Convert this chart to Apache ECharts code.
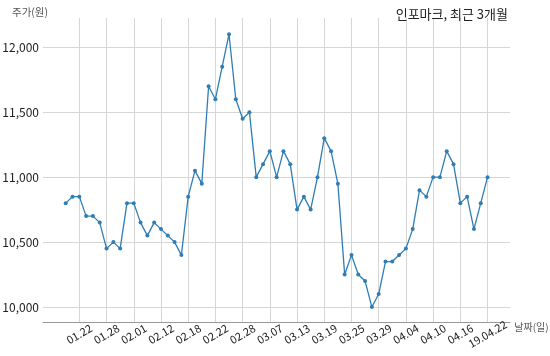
<!DOCTYPE html>
<html><head><meta charset="utf-8">
<script src="https://cdn.jsdelivr.net/npm/echarts@6/dist/echarts.min.js"></script>
<style>html,body{margin:0;padding:0;background:#fff}#c{width:550px;height:356px}</style>
</head><body><div id="c"></div>
<script>
const dates = ["01.18","01.21","01.22","01.23","01.24","01.25","01.28","01.29","01.30","01.31",
  "02.01","02.07","02.08","02.11","02.12","02.13","02.14","02.15","02.18","02.19",
  "02.20","02.21","02.22","02.25","02.26","02.27","02.28","03.04","03.05","03.06",
  "03.07","03.08","03.11","03.12","03.13","03.14","03.15","03.18","03.19","03.20",
  "03.21","03.22","03.25","03.26","03.27","03.28","03.29","04.01","04.02","04.03",
  "04.04","04.05","04.08","04.09","04.10","04.11","04.12","04.15","04.16","04.17",
  "04.18","04.19","04.22"];
const prices = [10800,10850,10850,10700,10700,10650,10450,10500,10450,10800,
  10800,10650,10550,10650,10600,10550,10500,10400,10850,11050,
  10950,11700,11600,11850,12100,11600,11450,11500,11000,11100,
  11200,11000,11200,11100,10750,10850,10750,11000,11300,11200,
  10950,10250,10400,10250,10200,10000,10100,10350,10350,10400,
  10450,10600,10900,10850,11000,11000,11200,11100,10800,10850,
  10600,10800,11000];
const tickIdx = [2,6,10,14,18,22,26,30,34,38,42,46,50,54,58,62];
const tickLabels = ["01.22","01.28","02.01","02.12","02.18","02.22","02.28","03.07","03.13","03.19","03.25","03.29","04.04","04.10","04.16","19.04.22"];
const yTicks = [10000,10500,11000,11500,12000];

const font = "'Noto Sans CJK KR','Noto Sans',sans-serif";
const chart = echarts.init(document.getElementById('c'));
chart.setOption({
  animation:false,
  title:[
    {text:'인포마크, 최근 3개월',right:37,top:3,textStyle:{fontSize:13,fontWeight:'normal',color:'#222',fontFamily:font}},
    {text:'주가(원)',left:12,top:7,padding:0,textStyle:{fontSize:10.5,fontWeight:'normal',color:'#555',fontFamily:font}}
  ],
  grid:{left:43,right:40,top:18,bottom:34,outerBoundsMode:'none',containLabel:false},
  xAxis:{type:'value',min:-3.34,max:65.3,
    name:'날짜(일)',nameLocation:'end',nameGap:2,
    nameTextStyle:{fontSize:10,color:'#555',fontFamily:font,verticalAlign:'top',padding:[0,0,0,0]},
    axisLine:{show:true,lineStyle:{color:'#999',width:1}},
    axisTick:{show:false,customValues:tickIdx},
    splitLine:{show:true,lineStyle:{color:'#d6d6d6',width:1}},
    axisLabel:{customValues:tickIdx,rotate:30,align:'center',verticalAlign:'middle',margin:12,
      fontSize:11,color:'#222',fontFamily:font,
      formatter:v=>{const k=tickIdx.indexOf(Math.round(v));return k>=0?tickLabels[k]:'';}}},
  yAxis:{type:'value',min:9885,max:12225,
    axisLine:{show:false},axisTick:{show:false,customValues:yTicks},
    splitLine:{show:true,lineStyle:{color:'#d6d6d6',width:1}},
    axisLabel:{customValues:yTicks,margin:4,fontSize:12,color:'#222',fontFamily:font,
      formatter:v=>v.toLocaleString('en-US')}},
  series:[{type:'line',data:prices.map((p,i)=>[i,p]),
    symbol:'circle',symbolSize:4,showSymbol:true,
    lineStyle:{color:'#2f7db3',width:1.3},itemStyle:{color:'#2f7db3'}}]
});
</script></body></html>
